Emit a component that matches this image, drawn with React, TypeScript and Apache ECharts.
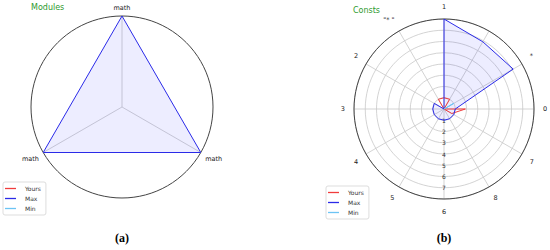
import React, { useEffect, useRef } from "react";
import * as echarts from "echarts";

// Panel (a): Modules
const catA = ["math", "math", "math"];
const yoursA = [0, 0, 0];
const maxA = [1, 1, 1];
const minA = [0, 0, 0];

// Panel (b): Consts (angles start at the bottom, counter-clockwise)
const catB = ["6", "8", "7", "0", "*", "", "1", '"* "', "2", "3", "4", "5"];
const yoursB = [0, 0, 0.8, 1.9, 0, 1, 1, 1, 0, 0, 0, 0];
const maxB = [1, 1, 1, 1, 7.1, 6.9, 8, 0, 1, 1, 1, 1];
const minB = [0, 0, 0, 0, 1, 0, 0, 0, 0, 0, 0, 0];

const legendNames = ["Yours", "Max", "Min"];
const titles = ["Modules", "Consts"];
const captions = ["(a)", "(b)"];

const RED = "#f03c3c";
const BLUE = "#2a2ae8";
const SKY = "#6cc4f4";
const FONT = "DejaVu Sans";

// points as [radius, angle-in-degrees along the category index]
const loop = (vals: number[]) => {
  const step = 360 / vals.length;
  return [...vals.map((v, i) => [v, i * step]), [vals[0], 360]];
};
const catLabel = (cats: string[]) => (v: number) => {
  const i = Math.round(v / (360 / cats.length));
  return i < cats.length ? cats[i] : "";
};

export default function App() {
  const ref = useRef<HTMLDivElement>(null);
  useEffect(() => {
    document.body.style.margin = "0";
    const chart = echarts.init(ref.current!, null, { renderer: "svg" });
    const mkSeries = (pi: number, y: number[], mx: number[], mn: number[]) => [
      {
        name: "Yours", type: "line", coordinateSystem: "polar", polarIndex: pi,
        data: loop(y), symbol: "none", lineStyle: { color: RED, width: 1 }, itemStyle: { color: RED },
      },
      {
        name: "Max", type: "line", coordinateSystem: "polar", polarIndex: pi,
        data: loop(mx), symbol: "none", lineStyle: { color: BLUE, width: 1 }, itemStyle: { color: BLUE },
        areaStyle: { color: "rgba(0,0,255,0.1)" },
      },
      {
        name: "Min", type: "line", coordinateSystem: "polar", polarIndex: pi,
        data: loop(mn), symbol: "none", lineStyle: { color: SKY, width: 1 }, itemStyle: { color: SKY },
      },
    ];
    const legendBase = {
      orient: "vertical", data: legendNames, icon: "rect", itemWidth: 11, itemHeight: 1.3, itemGap: 3,
      borderColor: "#ddd", borderWidth: 1, borderRadius: 2, padding: [3, 5, 3, 2],
      textStyle: { fontSize: 6, lineHeight: 7, fontFamily: FONT, color: "#333", padding: [0, 0, 0, 4] },
      selectedMode: false,
    };
    const angleAxis = (pi: number, cats: string[], start: number, margin: number) => ({
      polarIndex: pi, type: "value", min: 0, max: 360, interval: 360 / cats.length,
      startAngle: start, clockwise: false,
      axisLine: { lineStyle: { color: "#444", width: 1 } }, axisTick: { show: false },
      axisLabel: { margin, fontSize: 6.5, color: "#222", fontFamily: FONT, formatter: catLabel(cats) },
      splitLine: { show: true, lineStyle: { color: "#c8c8c8", width: 0.8 } },
    });
    chart.setOption({
      animation: false,
      title: [
        { text: titles[0], left: 31, top: 3, padding: 0, textStyle: { fontSize: 8, fontWeight: "normal", color: "#2e9a2e", fontFamily: FONT } },
        { text: titles[1], left: 353, top: 6, padding: 0, textStyle: { fontSize: 8, fontWeight: "normal", color: "#2e9a2e", fontFamily: FONT } },
        { text: captions[0], left: 122, top: 232, padding: 0, textAlign: "center", textStyle: { fontSize: 12, fontWeight: "bold", color: "#000", fontFamily: "Liberation Serif" } },
        { text: captions[1], left: 444, top: 232, padding: 0, textAlign: "center", textStyle: { fontSize: 12, fontWeight: "bold", color: "#000", fontFamily: "Liberation Serif" } },
      ],
      legend: [
        { ...legendBase, left: 3, top: 182 },
        { ...legendBase, left: 326, top: 186 },
      ],
      polar: [
        { center: [122, 107], radius: 91 },
        { center: [444, 109], radius: 90 },
      ],
      angleAxis: [angleAxis(0, catA, 90, 5), angleAxis(1, catB, 270, 9)],
      radiusAxis: [
        {
          polarIndex: 0, type: "value", min: 0, max: 1,
          axisLine: { show: false }, axisTick: { show: false }, axisLabel: { show: false }, splitLine: { show: false },
        },
        {
          polarIndex: 1, type: "value", min: 0, max: 8, interval: 1,
          axisLine: { show: false }, axisTick: { show: false },
          axisLabel: { show: true, showMinLabel: false, showMaxLabel: false, margin: 0, align: "center", verticalAlign: "middle", fontSize: 6, color: "#333", fontFamily: FONT },
          splitLine: { show: true, lineStyle: { color: "#c8c8c8", width: 0.8 } },
        },
      ],
      series: [...mkSeries(0, yoursA, maxA, minA), ...mkSeries(1, yoursB, maxB, minB)],
    });
    return () => chart.dispose();
  }, []);
  return <div ref={ref} style={{ width: 550, height: 250 }} />;
}
